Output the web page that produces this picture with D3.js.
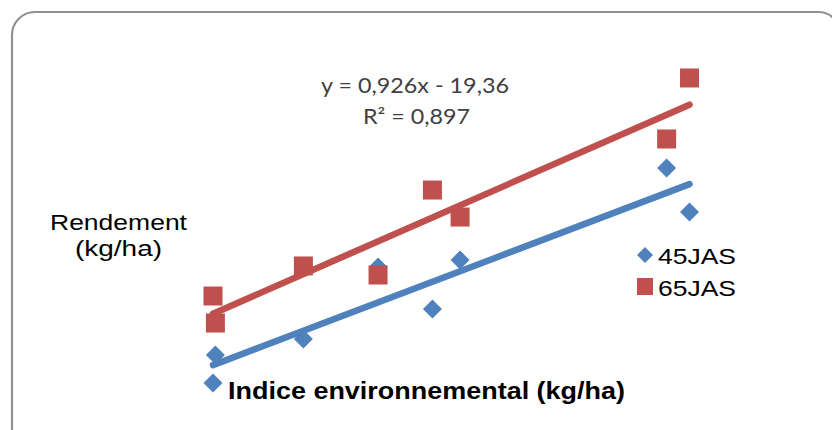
<!DOCTYPE html>
<html>
<head>
<meta charset="utf-8">
<script src="https://cdn.jsdelivr.net/npm/d3@7"></script>
<style>
  body { margin: 0; background: #fff; }
  svg { display: block; }
</style>
</head>
<body>
<script>
// environmental index (x) shared by both series
const envIndex = [1000, 1010, 1379, 1692, 1920, 2036, 2902, 2998]
// yields per environment
const rend45 = [294, 542, 684, 1321, 949, 1383, 2197, 1808]
const rend65 = [1064, 825, 1330, 1250, 2002, 1763, 2454, 2994]

const seriesNames = ['45JAS', '65JAS']
const eqLabel = ['y = 0,926x - 19,36', 'R\u00b2 = 0,897']
const yTitle = ['Rendement', '(kg/ha)']
const xTitle = 'Indice environnemental (kg/ha)'

const blue = '#4F81BD'
const red = '#C0504D'

const W = 832, H = 430

const svg = d3.select('body').append('svg')
  .attr('width', W)
  .attr('height', H)

// chart frame
svg.append('rect')
  .attr('x', 12).attr('y', 12)
  .attr('width', 829).attr('height', 440)
  .attr('rx', 23)
  .attr('fill', '#fff')
  .attr('stroke', '#929292')
  .attr('stroke-width', 2.2)

const x = d3.scaleLinear().domain([1000, 3000]).range([213, 690])
const y = d3.scaleLinear().domain([0, 3000]).range([416.2, 77.3])

function fit(xs, ys) {
  let mx = d3.mean(xs), my = d3.mean(ys)
  let sxy = 0, sxx = 0
  xs.forEach((v, i) => { sxy += (v - mx) * (ys[i] - my); sxx += (v - mx) * (v - mx) })
  let b = sxy / sxx
  return { b: b, a: my - b * mx }
}

const pts45 = envIndex.map((v, i) => ({ x: v, y: rend45[i] }))
const pts65 = envIndex.map((v, i) => ({ x: v, y: rend65[i] }))

// blue diamonds
svg.append('g').selectAll('path')
  .data(pts45)
  .join('path')
  .attr('transform', d => `translate(${x(d.x)},${y(d.y)})`)
  .attr('d', 'M0,-9.5L9.5,0L0,9.5L-9.5,0Z')
  .attr('fill', blue)

// red squares
svg.append('g').selectAll('rect')
  .data(pts65)
  .join('rect')
  .attr('x', d => x(d.x) - 9.5)
  .attr('y', d => y(d.y) - 9.5)
  .attr('width', 19).attr('height', 19)
  .attr('fill', red)

// trendlines
const xmin = d3.min(envIndex), xmax = d3.max(envIndex)
;[[rend45, blue], [rend65, red]].forEach(([ys, col]) => {
  let f = fit(envIndex, ys)
  svg.append('line')
    .attr('x1', x(xmin)).attr('y1', y(f.a + f.b * xmin))
    .attr('x2', x(xmax)).attr('y2', y(f.a + f.b * xmax))
    .attr('stroke', col)
    .attr('stroke-width', 6.5)
    .attr('stroke-linecap', 'round')
})

function label(txt, x0, base, len, size, opts) {
  opts = opts || {}
  return svg.append('text')
    .attr('x', x0).attr('y', base)
    .attr('textLength', len)
    .attr('lengthAdjust', 'spacingAndGlyphs')
    .attr('font-family', opts.family || '"Liberation Sans", Arial, sans-serif')
    .attr('font-size', size)
    .attr('font-weight', opts.weight || 'normal')
    .attr('fill', opts.fill || '#000')
    .text(txt)
}

// equation of the 65JAS trendline
label(eqLabel[0], 321, 93, 188, 21, { family: 'Lato, "Open Sans", sans-serif', fill: '#404040' })
label(eqLabel[1], 363, 124, 107, 21, { family: 'Lato, "Open Sans", sans-serif', fill: '#404040' })

// axis titles
label(yTitle[0], 50, 230, 137, 22)
label(yTitle[1], 75, 256, 87, 22)
label(xTitle, 228, 399, 397, 23, { weight: 'bold' })

// legend
svg.append('path')
  .attr('transform', 'translate(645,255)')
  .attr('d', 'M0,-8L8,0L0,8L-8,0Z')
  .attr('fill', blue)
svg.append('rect')
  .attr('x', 637).attr('y', 278)
  .attr('width', 16).attr('height', 17)
  .attr('fill', red)
label(seriesNames[0], 658, 264, 78, 22)
label(seriesNames[1], 658, 296, 78, 22)
</script>
</body>
</html>
